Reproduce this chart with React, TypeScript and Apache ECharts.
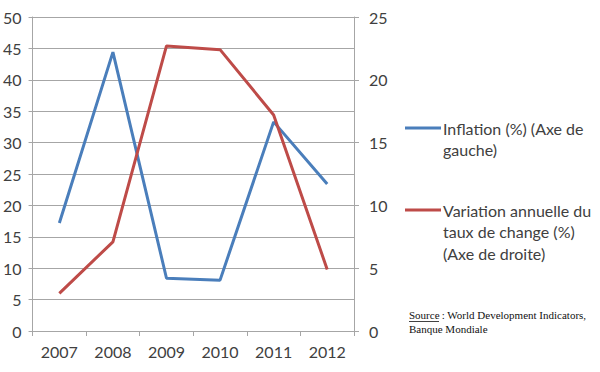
import React, { useEffect, useRef } from "react";
import * as echarts from "echarts";

const years = ["2007", "2008", "2009", "2010", "2011", "2012"];
const inflation = [17.2, 44.4, 8.4, 8.1, 33.3, 23.4];
const exchangeVar = [3.0, 7.1, 22.7, 22.4, 17.2, 4.9];
const legendInflation = ["Inflation (%) (Axe de", "gauche)"];
const legendExchange = ["Variation annuelle du", "taux de change (%)", "(Axe de droite)"];
const sourceLines = ["Source", " : World Development Indicators,", "Banque Mondiale"];

const BLUE = "#4a7ebb";
const RED = "#be4b48";
const TXT = "#404040";
const GRID = "#a6a6a6";
const FONT = "Lato, 'Open Sans', sans-serif";
const SERIF = "11px 'Liberation Serif', serif";

export default function App() {
  const ref = useRef<HTMLDivElement>(null);
  useEffect(() => {
    if (!ref.current) return;
    const chart = echarts.init(ref.current, undefined, { renderer: "svg" });
    chart.setOption({
      animation: false,
      backgroundColor: "#ffffff",
      grid: { left: 30, right: 246, top: 17, bottom: 41, containLabel: false },
      xAxis: {
        type: "category",
        data: years,
        boundaryGap: true,
        axisLine: { lineStyle: { color: GRID, width: 1 } },
        axisTick: { show: true, length: 5, lineStyle: { color: GRID } },
        axisLabel: { color: TXT, fontSize: 16, fontFamily: FONT, margin: 12 },
      },
      yAxis: [
        {
          type: "value",
          min: 0,
          max: 50,
          interval: 5,
          position: "left",
          axisLine: { show: true, lineStyle: { color: GRID } },
          axisTick: { show: true, length: 4, lineStyle: { color: GRID } },
          axisLabel: { color: TXT, fontSize: 16, fontFamily: FONT, margin: 11 },
          splitLine: { show: true, lineStyle: { color: GRID, width: 1 } },
        },
        {
          type: "value",
          min: 0,
          max: 25,
          interval: 5,
          position: "right",
          axisLine: { show: true, lineStyle: { color: GRID } },
          axisTick: { show: true, length: 5, lineStyle: { color: GRID } },
          axisLabel: { color: TXT, fontSize: 16, fontFamily: FONT, margin: 15 },
          splitLine: { show: false },
        },
      ],
      series: [
        {
          name: "Inflation",
          type: "line",
          yAxisIndex: 0,
          data: inflation,
          symbol: "none",
          lineStyle: { color: BLUE, width: 3 },
          itemStyle: { color: BLUE },
        },
        {
          name: "Variation",
          type: "line",
          yAxisIndex: 1,
          data: exchangeVar,
          symbol: "none",
          lineStyle: { color: RED, width: 3 },
          itemStyle: { color: RED },
        },
      ],
      graphic: [
        { type: "line", shape: { x1: 405, y1: 128, x2: 441, y2: 128 }, style: { stroke: BLUE, lineWidth: 3 } },
        ...legendInflation.map((t, i) => ({
          type: "text",
          x: 443,
          y: 128 + i * 21.5,
          style: { text: t, fill: TXT, font: `16px ${FONT}`, textVerticalAlign: "middle" },
        })),
        { type: "line", shape: { x1: 405, y1: 210, x2: 441, y2: 210 }, style: { stroke: RED, lineWidth: 3 } },
        ...legendExchange.map((t, i) => ({
          type: "text",
          x: 443,
          y: 210 + i * 21.5,
          style: { text: t, fill: TXT, font: `16px ${FONT}`, textVerticalAlign: "middle" },
        })),
        {
          type: "text",
          x: 409,
          y: 315,
          style: { text: sourceLines[0], fill: "#111", font: SERIF, textVerticalAlign: "middle" },
        },
        { type: "line", shape: { x1: 409, y1: 321.5, x2: 439, y2: 321.5 }, style: { stroke: "#111", lineWidth: 0.8 } },
        {
          type: "text",
          x: 439,
          y: 315,
          style: { text: sourceLines[1], fill: "#111", font: SERIF, textVerticalAlign: "middle" },
        },
        {
          type: "text",
          x: 409,
          y: 329,
          style: { text: sourceLines[2], fill: "#111", font: SERIF, textVerticalAlign: "middle" },
        },
      ],
    });
    return () => chart.dispose();
  }, []);
  return (
    <div
      ref={ref}
      style={{ position: "absolute", left: 0, top: 0, width: 600, height: 372 }}
    />
  );
}
